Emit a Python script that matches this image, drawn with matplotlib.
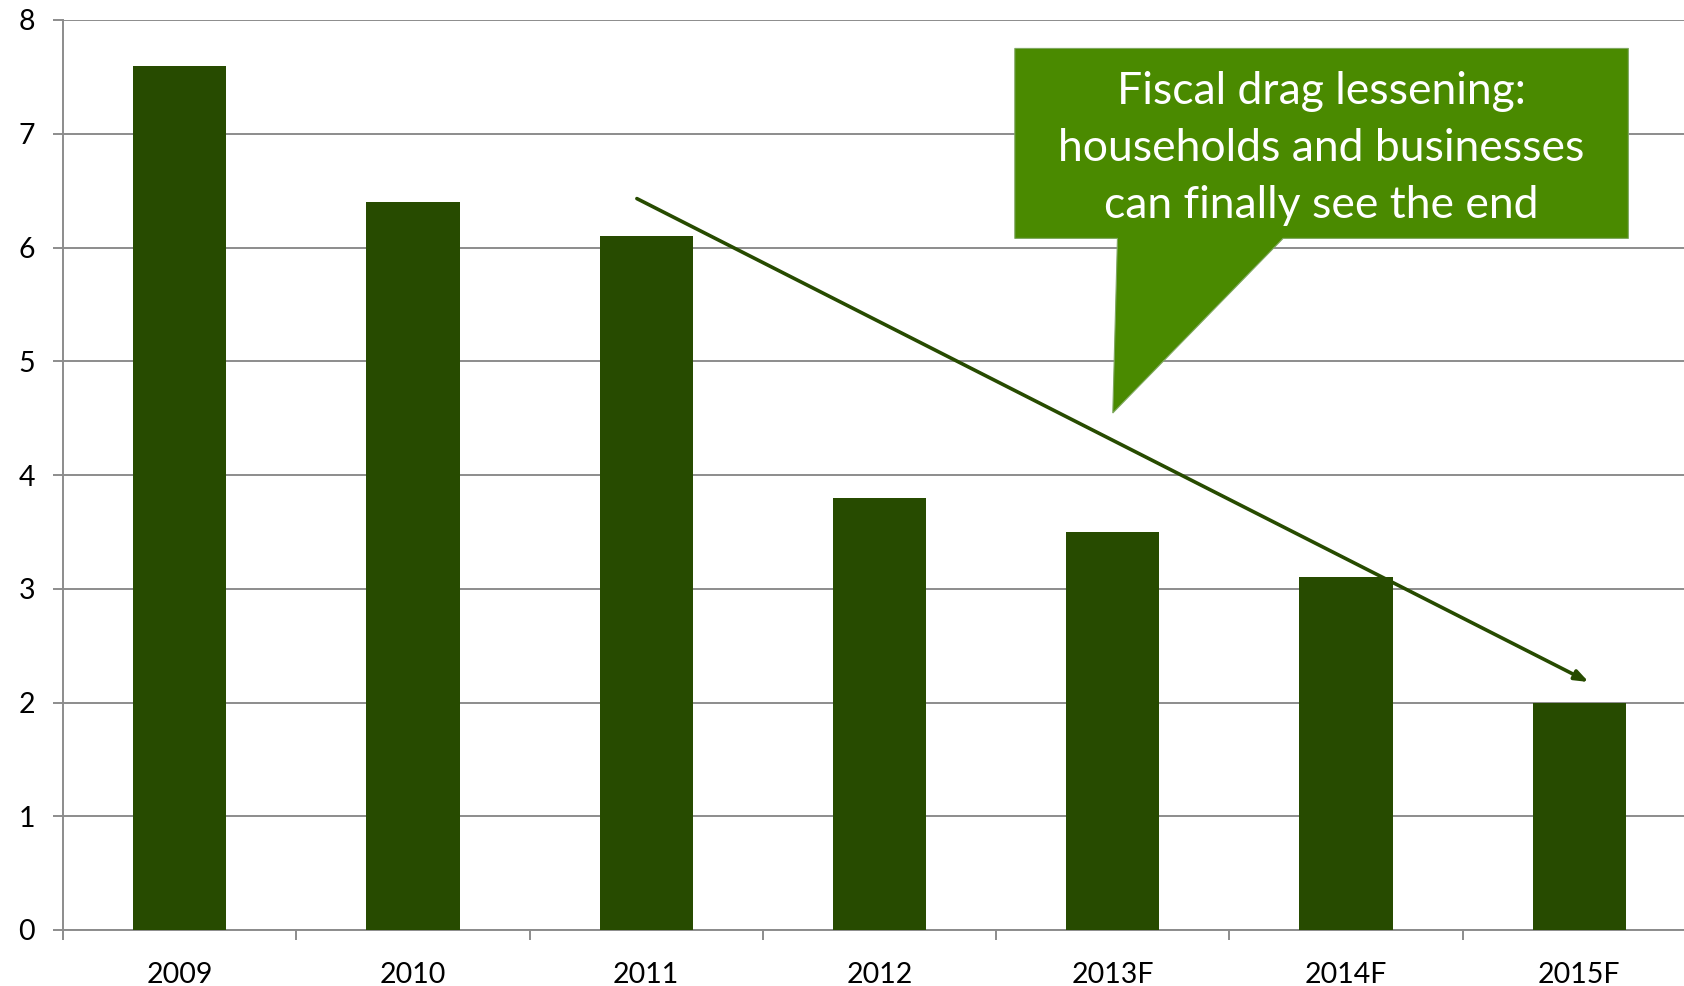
import numpy as np
import matplotlib
matplotlib.use("Agg")
import matplotlib.pyplot as plt
from matplotlib.patches import Polygon

years = ["2009", "2010", "2011", "2012", "2013F", "2014F", "2015F"]
values = [7.6, 6.4, 6.1, 3.8, 3.5, 3.1, 2.0]
y_ticks = [0, 1, 2, 3, 4, 5, 6, 7, 8]
callout_lines = ["Fiscal drag lessening:", "households and businesses", "can finally see the end"]

BAR = "#274b00"
CALLOUT = "#4a8a00"
GRID = "#8c8c8c"

plt.rcParams["font.family"] = ["Lato", "DejaVu Sans"]

fig = plt.figure(figsize=(16.84, 9.86), dpi=100)
ax = fig.add_axes([63 / 1684, 56 / 986, 1633 / 1684, 910 / 986])

x = np.arange(len(years))
ax.bar(x, values, width=0.4, color=BAR, zorder=3)

ax.set_xlim(-0.5, len(years) - 0.5)
ax.set_ylim(0, 8)
ax.set_yticks(y_ticks)
ax.yaxis.grid(True, color=GRID, linewidth=1.4, zorder=0)
ax.set_axisbelow(True)

ax.set_xticks(x)
ax.set_xticklabels(years)
ax.set_xticks(np.arange(-0.5, len(years)), minor=True)
ax.tick_params(axis="x", which="major", length=0, pad=23, labelsize=20.5)
ax.tick_params(axis="x", which="minor", length=7, width=1.4, color=GRID, direction="out")
ax.tick_params(axis="y", length=7, width=1.4, color=GRID, pad=13, labelsize=20.5)

for s in ["top", "right"]:
    ax.spines[s].set_visible(False)
for s in ["left", "bottom"]:
    ax.spines[s].set_color(GRID)
    ax.spines[s].set_linewidth(1.4)

# trend arrow
ax.annotate("", xy=(6.04, 2.18), xytext=(1.96, 6.43),
            arrowprops=dict(arrowstyle="-|>,head_length=0.8,head_width=0.3",
                            color=BAR, lw=2.6, shrinkA=0, shrinkB=0),
            zorder=5)

# speech-bubble callout
bubble = Polygon([(3.58, 7.75), (6.21, 7.75), (6.21, 6.08), (4.73, 6.08),
                  (4.00, 4.545), (4.02, 6.08), (3.58, 6.08)],
                 closed=True, facecolor=CALLOUT, edgecolor="#7fa860", linewidth=0.8,
                 zorder=6, clip_on=False)
ax.add_patch(bubble)
for i, line in enumerate(callout_lines):
    ax.text(4.895, 7.37 - i * 0.5, line, ha="center", va="center",
            color="white", fontsize=32, zorder=7)

fig.savefig("out.png", dpi=100)
